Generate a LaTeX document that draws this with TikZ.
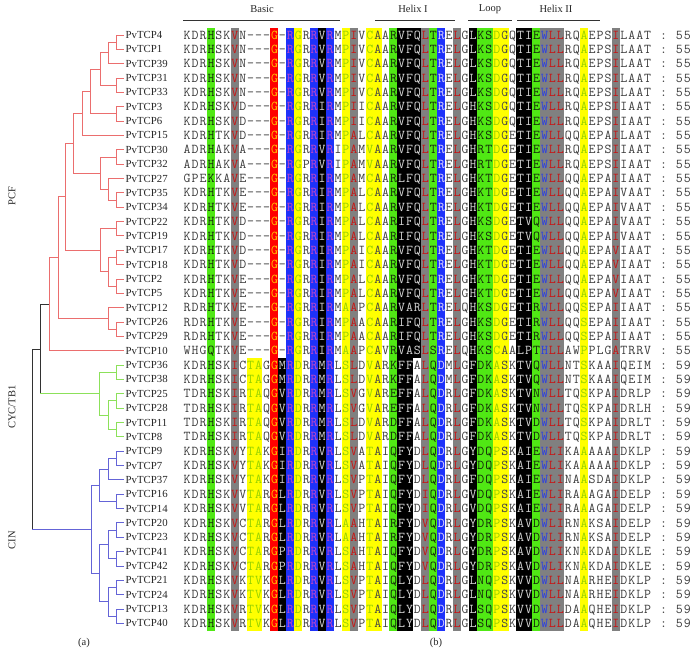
\documentclass[tikz,border=0pt]{standalone}
\usepackage{fontspec}
\setmainfont{Liberation Serif}
\definecolor{pcf}{RGB}{235,110,110}
\definecolor{cyc}{RGB}{140,225,90}
\definecolor{cin}{RGB}{100,100,215}
\definecolor{rootc}{RGB}{50,50,50}
\definecolor{bgG}{RGB}{80,232,20}
\definecolor{bgY}{RGB}{255,255,0}
\definecolor{bgB}{RGB}{30,50,250}
\definecolor{bgK}{RGB}{0,0,0}
\definecolor{bgA}{RGB}{128,128,128}
\definecolor{bgR}{RGB}{255,0,0}
\definecolor{fgn}{RGB}{60,60,60}
\definecolor{fgt}{RGB}{60,60,60}
\definecolor{fgg}{RGB}{20,40,10}
\definecolor{fga}{RGB}{200,20,20}
\definecolor{fgw}{RGB}{40,60,230}
\definecolor{fgb}{RGB}{190,70,200}
\definecolor{fgB}{RGB}{225,215,255}
\definecolor{fgk}{RGB}{215,215,215}
\definecolor{fgx}{RGB}{215,215,215}
\definecolor{fgy}{RGB}{150,210,0}
\definecolor{fgz}{RGB}{150,210,0}
\definecolor{fgY}{RGB}{70,70,70}
\definecolor{fgr}{RGB}{255,190,0}
\newcount\colidx
\newdimen\cw \cw=7.94bp
\def\defcodes#1{\global\colidx=0 \defcodesi#1\relax}
\def\defcodesi#1{\ifx\relax#1\else\global\advance\colidx by 1 \expandafter\xdef\csname cc\the\colidx\endcsname{#1}\expandafter\defcodesi\fi}
\defcodes{nnngnnanzznrxbynbkbnyanyYngkkqagBnankggyYnkkgwaannynnnannnnttttt}
\def\sq#1{\colidx=0 \sqi#1\relax}
\def\sqi#1{\ifx\relax#1\else\advance\colidx by 1 \sqc{#1}\expandafter\sqi\fi}
\def\sqc#1{\if.#1\makebox[\cw]{}\else\if-#1\makebox[\cw]{\textcolor{fgn}{-}}\else\edef\curcol{fg\csname cc\the\colidx\endcsname}\makebox[\cw]{\textcolor{\curcol}{#1}}\fi\fi}
\newcommand\arow[3]{\node[lab] (t#1) at (124,{35+14.35*#1}) {#2}; \node[seq] (s#1) at (183,{35+14.35*#1}) {\ifnum#1<23 \colorlet{fgq}{fgk}\else\colorlet{fgq}{fgn}\fi\sq{#3}};}
\newcommand\stripe[4]{\fill[#2] ({183+(#1-1)*7.94},#3) rectangle ({183+#1*7.94},#4);}
\tikzset{
  lab/.style={anchor=west,inner sep=1.5bp,font=\fontsize{10.8bp}{10.8bp}\selectfont,text height=7.1bp,text depth=0pt,text=black!85},
  seq/.style={anchor=west,inner sep=0pt,font=\ttfamily\fontsize{13.5bp}{13.5bp}\selectfont,text height=8.2bp,text depth=0pt},
  hdr/.style={inner sep=0pt,font=\fontsize{10.5bp}{10.5bp}\selectfont,text=black!85},
  grp/.style={inner sep=0pt,rotate=90,font=\fontsize{10.5bp}{10.5bp}\selectfont,text=black!85},
  pcfline/.style={draw=pcf,line width=0.9bp},
  cycline/.style={draw=cyc,line width=0.9bp},
  cinline/.style={draw=cin,line width=0.9bp},
  rootline/.style={draw=rootc,line width=0.9bp},
}
\begin{document}
\begin{tikzpicture}[x=1bp,y=-1bp]
\useasboundingbox (0,0) rectangle (697,656);
% column shading
\foreach \c/\cl in {4/bgG,7/bgA,12/bgR,14/bgB,15/bgY,17/bgB,18/bgK,19/bgB,21/bgY,22/bgA,24/bgY,25/bgY,27/bgG,28/bgK,29/bgK,31/bgA,32/bgG,33/bgB,35/bgA,37/bgK,38/bgG,39/bgG,40/bgY,41/bgY,43/bgK,44/bgK,45/bgG,46/bgA,47/bgA,48/bgA,51/bgY,55/bgA}{\stripe{\c}{\cl}{27.8}{630.6}}
\stripe{30}{bgK}{27.8}{357.9}
\foreach \c/\cl in {9/bgY,10/bgY,13/bgK}{\stripe{\c}{\cl}{357.9}{630.6}}
% header
\node[hdr] (hb) at (262,9) {Basic};
\node[hdr] (h1) at (413,9) {Helix I};
\node[hdr] (hl) at (490,9) {Loop};
\node[hdr] (h2) at (556,9) {Helix II};
\draw[black!80,line width=0.7bp] (183,20) -- (340,20) (375,20) -- (455,20) (468,20) -- (512,20) (517,20) -- (600,20);
% rows
\arow{0}{PvTCP4}{KDRHSKVN---G-RGRRVRMPIVCAARVFQLTRELGLKSDGQTIEWLLRQAEPSILAAT.:.55}
\arow{1}{PvTCP1}{KDRHSKVN---G-RGRRVRMPIVCAARVFQLTRELGLKSDGQTIEWLLRQAEPSILAAT.:.55}
\arow{2}{PvTCP39}{KDRHSKVN---G-RGRRVRMPIVCAARVFQLTRELGLKSDGQTIEWLLRQAEPSILAAT.:.55}
\arow{3}{PvTCP31}{KDRHSKVN---G-RGRRVRMPIVCAARVFQLTRELGLKSDGQTIEWLLRQAEPSILAAT.:.55}
\arow{4}{PvTCP33}{KDRHSKVN---G-RGRRVRMPIVCAARVFQLTRELGLKSDGQTIEWLLRQAEPSILAAT.:.55}
\arow{5}{PvTCP3}{KDRHSKVD---G-RGRRIRMPIICAARVFQLTRELGHKSDGQTIEWLLRQAEPSIIAAT.:.55}
\arow{6}{PvTCP6}{KDRHSKVD---G-RGRRIRMPIICAARVFQLTRELGHKSDGQTIEWLLRQAEPSIIAAT.:.55}
\arow{7}{PvTCP15}{KDRHTKVD---G-RGRRIRMPALCAARVFQLTRELGHKSDGETIEWLLQQAEPAILAAT.:.55}
\arow{8}{PvTCP30}{ADRHAKVA---G-RGRRVRIPAMVAARVFQLTRELGHRTDGETIEWLLRQAEPSIIAAT.:.55}
\arow{9}{PvTCP32}{ADRHAKVA---G-RGPRVRIPAMVAARVFQLTRELGHRTDGETIEWLLRQAEPSIIAAT.:.55}
\arow{10}{PvTCP27}{GPEKKAVE---G-RGRRIRMPAMCAARLFQLTRELGHKTDGETIEWLLQQAEPAIIAAT.:.55}
\arow{11}{PvTCP35}{KDRHTKVE---G-RGRRIRMPALCAARVFQLTRELGHKTDGETIEWLLQQAEPAIVAAT.:.55}
\arow{12}{PvTCP34}{KDRHTKVE---G-RGRRIRMPALCAARVFQLTRELGHKTDGETIEWLLQQAEPAIVAAT.:.55}
\arow{13}{PvTCP22}{KDRHTKVD---G-RGRRIRMPALCAARIFQLTRELGHKSDGETVQWLLQQAEPAIVAAT.:.55}
\arow{14}{PvTCP19}{KDRHTKVD---G-RGRRIRMPALCAARIFQLTRELGHKSDGETVQWLLQQAEPAIVAAT.:.55}
\arow{15}{PvTCP17}{KDRHTKVD---G-RGRRIRMPAICAARVFQLTRELGHKTDGETIEWLLQQAEPAVIAAT.:.55}
\arow{16}{PvTCP18}{KDRHTKVD---G-RGRRIRMPAICAARVFQLTRELGHKTDGETIEWLLQQAEPAVIAAT.:.55}
\arow{17}{PvTCP2}{KDRHTKVE---G-RGRRIRMPALCAARVFQLTRELGHKTDGETIEWLLQQAEPAVIAAT.:.55}
\arow{18}{PvTCP5}{KDRHTKVE---G-RGRRIRMPALCAARVFQLTRELGHKTDGETIEWLLQQAEPAVIAAT.:.55}
\arow{19}{PvTCP12}{RDRHTKVE---G-RGRRIRMAAPCAARVARLTRELQHKSDGETIRWLLQQSEPAIIAAT.:.55}
\arow{20}{PvTCP26}{RDRHTKVE---G-RGRRIRMPAACAARIFQLTRELGHKSDGETIRWLLQQSEPAIIAAT.:.55}
\arow{21}{PvTCP29}{RDRHTKVE---G-RGRRIRMPAACAARIFQLTRELGHKSDGETIRWLLQQSEPAIIAAT.:.55}
\arow{22}{PvTCP10}{WHGQTKVE---G-RGRRIRMAAPCAVRVASLSRELQHKSCAALPTHLLAWPPLGATRRV.:.55}
\arow{23}{PvTCP36}{KDRHSKICTAGGMRDRRMRLSLDVARKFFALQDMLGFDKASKTVQWLLNTSKAAIQEIM.:.59}
\arow{24}{PvTCP38}{KDRHSKICTAGGMRDRRMRLSLDVARKFFALQDMLGFDKASKTVQWLLNTSKAAIQEIM.:.59}
\arow{25}{PvTCP25}{TDRHSKIRTAQGVRDRRMRLSVGVAREFFALQDRLGFDKASKTVNWLLTQSKPAIDRLP.:.59}
\arow{26}{PvTCP28}{TDRHSKIRTAQGVRDRRMRLSVGVAREFFALQDRLGFDKASKTVNWLLTQSKPAIDRLH.:.59}
\arow{27}{PvTCP11}{TDRHSKIRTAQGVRDRRMRLSLDVARDFFALQDRLGFDKASKTVDWLLTQSKPAIDRLT.:.59}
\arow{28}{PvTCP8}{TDRHSKIRTAQGVRDRRMRLSLDVARDFFALQDRLGFDKASKTVDWLLTQSKPAIDRLT.:.59}
\arow{29}{PvTCP9}{KDRHSKVYTAKGIRDRRVRLSVATAIQFYDLQDRLGYDQPSKAIEWLIKAAAAAIDKLP.:.59}
\arow{30}{PvTCP7}{KDRHSKVYTAKGIRDRRVRLSVATAIQFYDLQDRLGYDQPSKAIEWLIKAAAAAIDKLP.:.59}
\arow{31}{PvTCP37}{KDRHSKVYTAKGIRDRRVRLSVPTAIQFYDLQDRLGFDQPSKAIEWLINAASDAIDKLP.:.59}
\arow{32}{PvTCP16}{KDRHSKVVTARGLRDRRVRLSVPTAIQFYDIQDRLGVDQPSKAIEWLIRAAAGAIDELP.:.59}
\arow{33}{PvTCP14}{KDRHSKVVTARGLRDRRVRLSVPTAIQFYDIQDRLGVDQPSKAIEWLIRAAAGAIDELP.:.59}
\arow{34}{PvTCP20}{KDRHSKVCTARGLRDRRVRLAAHTAIRFYDVQDRLGYDRPSKAVDWLIRNAKSAIDELP.:.59}
\arow{35}{PvTCP23}{KDRHSKVCTARGLRDRRVRLAAHTAIRFYDVQDRLGYDRPSKAVDWLIRNAKSAIDELP.:.59}
\arow{36}{PvTCP41}{KDRHSKVCTARGPRDRRVRLSAHTAIQFYDVQDRLGYDRPSKAVDWLIKNAKDAIDKLE.:.59}
\arow{37}{PvTCP42}{KDRHSKVCTARGPRDRRVRLSAHTAIQFYDVQDRLGYDRPSKAVDWLIKNAKDAIDKLE.:.59}
\arow{38}{PvTCP21}{KDRHSKVKTVKGLRDRRVRLSVPTAIQLYDLQDRLGLNQPSKVVDWLLNAARHEIDKLP.:.59}
\arow{39}{PvTCP24}{KDRHSKVKTVKGLRDRRVRLSVPTAIQLYDLQDRLGLNQPSKVVDWLLNAARHEIDKLP.:.59}
\arow{40}{PvTCP13}{KDRHSKVRTVKGLRDRRVRLSVPTAIQLYDLQDRLGLSQPSKVVDWLLDAAQHEIDKLP.:.59}
\arow{41}{PvTCP40}{KDRHSKVRTVKGLRDRRVRLSVPTAIQLYDLQDRLGLSQPSKVVDWLLDAAQHEIDKLP.:.59}
% tree: PCF
\coordinate (n41) at (116.7,42.2);
\coordinate (n4139) at (108.3,52.9);
\coordinate (n3133) at (116.7,85.2);
\coordinate (nA) at (100,69.1);
\coordinate (n36) at (116.7,113.9);
\coordinate (nB) at (90.7,91.5);
\coordinate (nE) at (82.3,113.5);
\coordinate (n3032) at (116.7,157);
\coordinate (n3534) at (116.7,200);
\coordinate (n27) at (108.3,189.3);
\coordinate (nF) at (100,173.1);
\coordinate (nD) at (73.3,143.3);
\coordinate (n2219) at (116.7,228.7);
\coordinate (n1718) at (116.7,257.4);
\coordinate (n25) at (116.7,286.1);
\coordinate (nG) at (108.3,271.8);
\coordinate (nH) at (100,250.2);
\coordinate (nC) at (65,196.8);
\coordinate (n2629) at (116.7,329.2);
\coordinate (n12) at (108.3,318.4);
\coordinate (nBB) at (58.3,257.6);
\coordinate (nPCF) at (49.3,304.2);
\draw[pcfline] (n41) |- (t0.west) (n41) |- (t1.west)
  (n4139) |- (n41) (n4139) |- (t2.west)
  (n3133) |- (t3.west) (n3133) |- (t4.west)
  (nA) |- (n4139) (nA) |- (n3133)
  (n36) |- (t5.west) (n36) |- (t6.west)
  (nB) |- (nA) (nB) |- (n36)
  (nE) |- (nB) (nE) |- (t7.west)
  (n3032) |- (t8.west) (n3032) |- (t9.west)
  (n3534) |- (t11.west) (n3534) |- (t12.west)
  (n27) |- (t10.west) (n27) |- (n3534)
  (nF) |- (n3032) (nF) |- (n27)
  (nD) |- (nE) (nD) |- (nF)
  (n2219) |- (t13.west) (n2219) |- (t14.west)
  (n1718) |- (t15.west) (n1718) |- (t16.west)
  (n25) |- (t17.west) (n25) |- (t18.west)
  (nG) |- (n1718) (nG) |- (n25)
  (nH) |- (n2219) (nH) |- (nG)
  (nC) |- (nD) (nC) |- (nH)
  (n2629) |- (t20.west) (n2629) |- (t21.west)
  (n12) |- (t19.west) (n12) |- (n2629)
  (nBB) |- (nC) (nBB) |- (n12)
  (nPCF) |- (nBB) (nPCF) |- (t22.west);
% CYC/TB1
\coordinate (n3638) at (116.7,372.2);
\coordinate (n2528) at (116.7,400.9);
\coordinate (n118) at (116.7,429.6);
\coordinate (nI) at (108.3,415.3);
\coordinate (nCYC) at (99.3,393.8);
\draw[cycline] (n3638) |- (t23.west) (n3638) |- (t24.west)
  (n2528) |- (t25.west) (n2528) |- (t26.west)
  (n118) |- (t27.west) (n118) |- (t28.west)
  (nI) |- (n2528) (nI) |- (n118)
  (nCYC) |- (n3638) (nCYC) |- (nI);
% CIN
\coordinate (n97) at (116.7,458.3);
\coordinate (nJ) at (108.3,469.1);
\coordinate (n1614) at (116.7,501.4);
\coordinate (nK) at (99.3,485.3);
\coordinate (n2023) at (116.7,530.1);
\coordinate (n4142) at (116.7,558.8);
\coordinate (nL) at (108.3,544.4);
\coordinate (n2124) at (116.7,587.5);
\coordinate (n1340) at (116.7,616.2);
\coordinate (nM) at (108.3,601.8);
\coordinate (nN) at (99.3,573.1);
\coordinate (nCIN) at (91,529.2);
\draw[cinline] (n97) |- (t29.west) (n97) |- (t30.west)
  (nJ) |- (n97) (nJ) |- (t31.west)
  (n1614) |- (t32.west) (n1614) |- (t33.west)
  (nK) |- (nJ) (nK) |- (n1614)
  (n2023) |- (t34.west) (n2023) |- (t35.west)
  (n4142) |- (t36.west) (n4142) |- (t37.west)
  (nL) |- (n2023) (nL) |- (n4142)
  (n2124) |- (t38.west) (n2124) |- (t39.west)
  (n1340) |- (t40.west) (n1340) |- (t41.west)
  (nM) |- (n2124) (nM) |- (n1340)
  (nN) |- (nL) (nN) |- (nM)
  (nCIN) |- (nK) (nCIN) |- (nN);
% root
\coordinate (nTop) at (40,349);
\coordinate (nRoot) at (32,439.1);
\coordinate (jc) at (40,393.8);
\coordinate (jn) at (32,529.2);
\draw[rootline] (nTop) |- (nPCF) (nTop) -- (jc) (nRoot) |- (nTop) (nRoot) -- (jn);
\draw[cycline] (jc) -- (nCYC);
\draw[cinline] (jn) -- (nCIN);
% group labels
\node[grp] (gpcf) at (12,196) {PCF};
\node[grp] (gcyc) at (12,407) {CYC/TB1};
\node[grp] (gcin) at (12,540) {CIN};
\node[hdr] (pa) at (84,643) {(a)};
\node[hdr] (pb) at (436,643) {(b)};
\end{tikzpicture}
\end{document}
